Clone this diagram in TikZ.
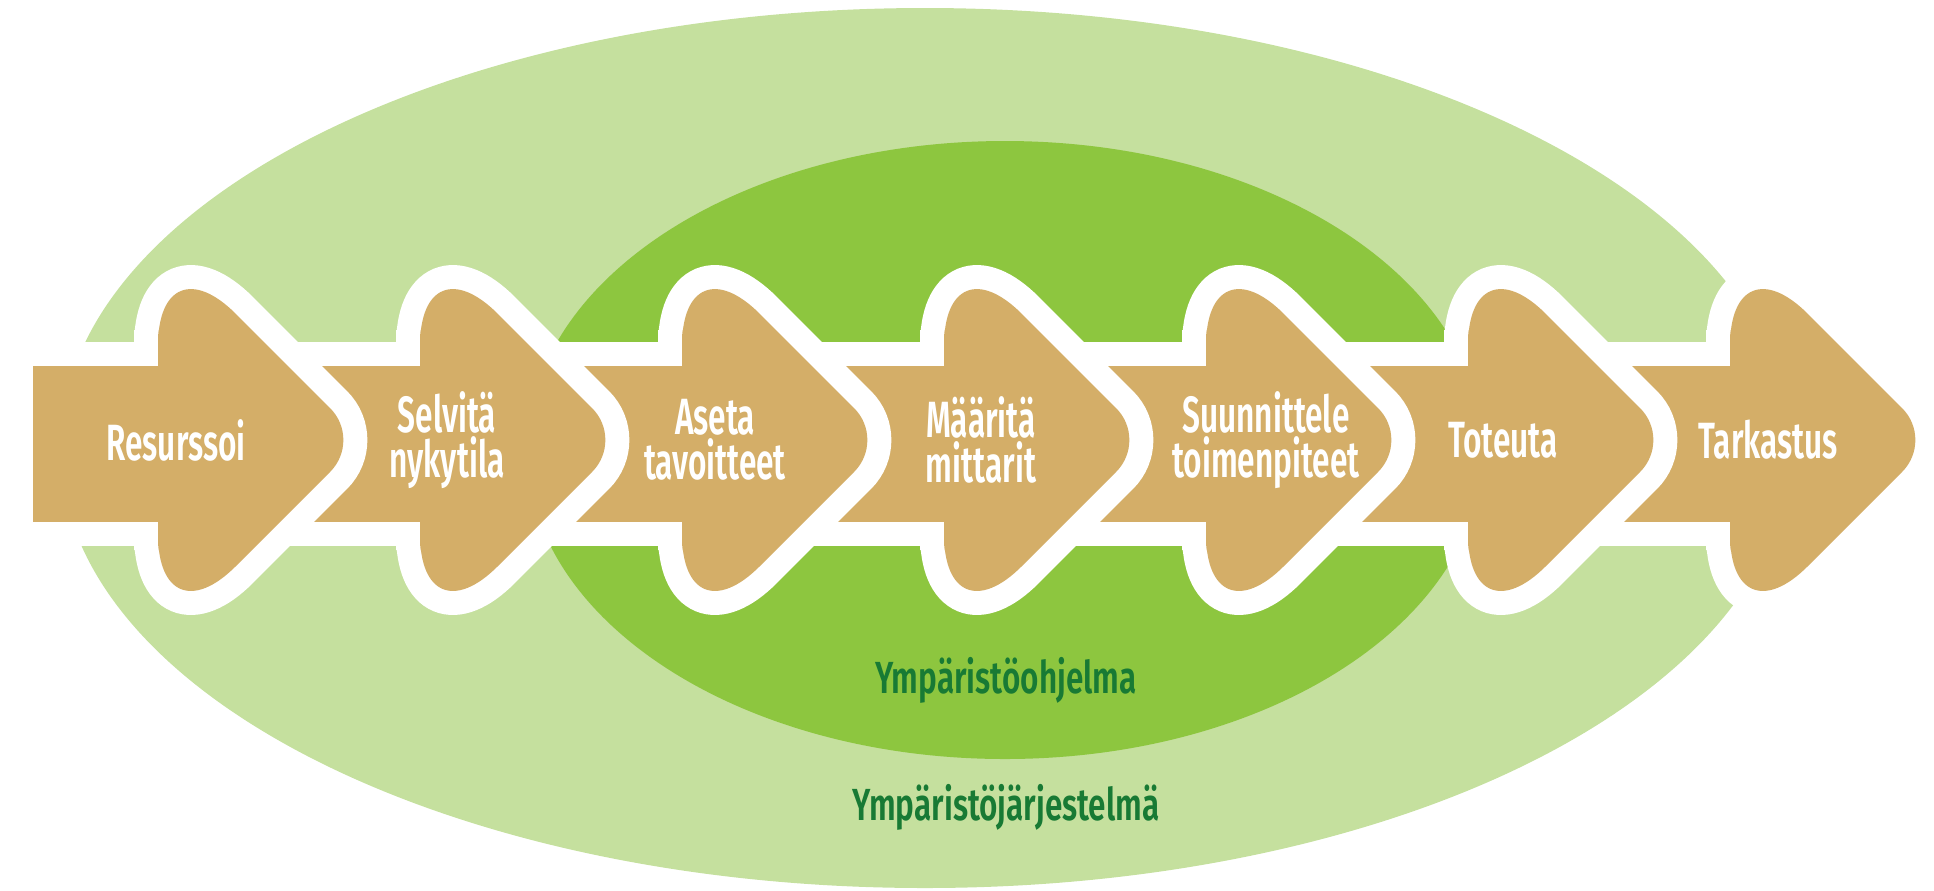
\documentclass[tikz,border=0pt]{standalone}
\usepackage{fontspec}
\newfontfamily\stepfont[FakeStretch=0.62]{Fira Sans SemiBold}
\newfontfamily\ringfont[FakeStretch=0.70]{Fira Sans SemiBold}
\definecolor{leaflight}{RGB}{197,224,158}
\definecolor{leafmid}{RGB}{141,198,63}
\definecolor{stepbrown}{RGB}{212,174,104}
\definecolor{textgreen}{RGB}{24,122,52}
\tikzset{
  steptext/.style={text=white,align=center,inner sep=0pt,font=\stepfont\fontsize{14.5}{11.4}\selectfont},
  ringtext/.style={text=textgreen,inner sep=0pt,font=\ringfont\fontsize{12.8}{14}\selectfont},
  rim/.style={draw=white,fill=white,line width=4.8mm},
  stepfill/.style={fill=stepbrown}
}
\begin{document}
\begin{tikzpicture}[x=0.1mm,y=-0.1mm]
\useasboundingbox (0,0) rectangle (1934,890);

% the two areas
\fill[leaflight] (925,448) ellipse [x radius=865,y radius=440];
\fill[leafmid] (1005,450) ellipse [x radius=478,y radius=309];

% arrows, drawn from the right so that each head lies on the next tail
\foreach \t/\l in {1915/1553,1653/1291,1391/1029,1129/767,867/505,605/243,343/33}{
  \path[rim] (\l,366) rectangle (\t-185,522);
  \path[rim] (\t-185,440) [rounded corners=11mm] -- (\t-185,236) [rounded corners=4.5mm] -- (\t+19,440) [rounded corners=11mm] -- (\t-185,644) -- cycle;
  \path[stepfill] (\l,366) rectangle (\t-185,522);
  \path[stepfill] (\t-185,440) [rounded corners=11mm] -- (\t-185,236) [rounded corners=4.5mm] -- (\t+19,440) [rounded corners=11mm] -- (\t-185,644) -- cycle;
}

\node[steptext] (resurssoi) at (176,440) {Resurssoi};
\node[steptext] (selvita) at (447,440) {Selvitä\\nykytila};
\node[steptext] (aseta) at (715,440) {Aseta\\tavoitteet};
\node[steptext] (maarita) at (981,440) {Määritä\\mittarit};
\node[steptext] (suunnittele) at (1266,440) {Suunnittele\\toimenpiteet};
\node[steptext] (toteuta) at (1503,440) {Toteuta};
\node[steptext] (tarkastus) at (1768,440) {Tarkastus};

\node[ringtext,anchor=base] (ohjelma) at (1006,693) {Ympäristöohjelma};
\node[ringtext,anchor=base] (jarjestelma) at (1006,820) {Ympäristöjärjestelmä};
\end{tikzpicture}
\end{document}
